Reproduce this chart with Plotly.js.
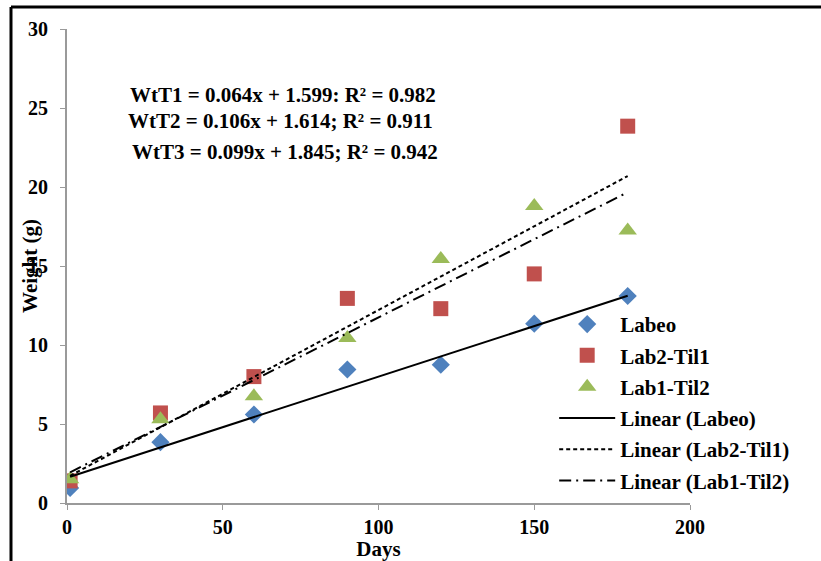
<!DOCTYPE html>
<html>
<head>
<meta charset="utf-8">
<script src="https://cdn.plot.ly/plotly-3.0.1.min.js"></script>
<style>html,body{margin:0;padding:0;background:#fff;}#chart{width:821px;height:561px;}</style>
</head>
<body>
<div id="chart"></div>
<script>
const days = [1, 30, 60, 90, 120, 150, 180];
const labeo = [0.95, 3.85, 5.6, 8.45, 8.75, 11.35, 13.1];
const lab2Til1 = [1.4, 5.7, 8.0, 12.95, 12.3, 14.5, 23.85];
const lab1Til2 = [1.5, 5.3, 6.75, 10.45, 15.45, 18.8, 17.25];
const seriesNames = ["Labeo", "Lab2-Til1", "Lab1-Til2"];
const slopes = [0.064, 0.106, 0.099];
const intercepts = [1.599, 1.614, 1.845];
const equations = [
  "WtT1 = 0.064x + 1.599: R² = 0.982",
  "WtT2 = 0.106x + 1.614; R² = 0.911",
  "WtT3 = 0.099x + 1.845; R² = 0.942"
];
const xTicks = [0, 50, 100, 150, 200];
const yTicks = [0, 5, 10, 15, 20, 25, 30];

const FONT = "Liberation Serif";
const colors = ["#4F81BD", "#C0504D", "#9BBB59"];
const symbols = ["diamond", "square", "triangle-up"];
const sizes = [14, 15, 16];
const dashes = ["solid", "4px,3px", "12px,5px,2px,5px"];
const seriesVals = [labeo, lab2Til1, lab1Til2];

const traces = [];
seriesVals.forEach((v, i) => {
  traces.push({
    x: days, y: v, mode: "markers", type: "scatter", name: seriesNames[i],
    legendgroup: "g" + i,
    marker: {color: colors[i], symbol: symbols[i], size: sizes[i]}
  });
});
seriesVals.forEach((v, i) => {
  const xs = [days[0], days[days.length - 1]];
  traces.push({
    x: xs, y: xs.map(x => slopes[i] * x + intercepts[i]),
    mode: "lines", type: "scatter", name: "Linear (" + seriesNames[i] + ")",
    legendgroup: "l" + i,
    line: {color: "#000", width: 2, dash: dashes[i]}
  });
});

const annY = [25.8, 24.2, 22.2];
const annX = [69.5, 68.5, 70];
const annotations = equations.map((t, i) => ({
  x: annX[i], y: annY[i], xref: "x", yref: "y", text: t, showarrow: false,
  font: {family: FONT, size: 21, color: "#000", weight: "bold"}
}));

const layout = {
  width: 821, height: 561,
  margin: {l: 67, r: 131, t: 29, b: 58},
  paper_bgcolor: "#fff", plot_bgcolor: "#fff",
  showlegend: true,
  legend: {x: 0.782, y: 0.42, xanchor: "left", yanchor: "top", bgcolor: "rgba(0,0,0,0)",
    itemwidth: 56,
    font: {family: FONT, size: 21, color: "#000", weight: "bold"}, tracegroupgap: 1},
  xaxis: {range: [0, 200], tickvals: xTicks, showgrid: false, zeroline: false,
    showline: true, linecolor: "#9a9a9a", linewidth: 2, ticks: "outside", ticklen: 5, tickcolor: "#9a9a9a",
    tickfont: {family: FONT, size: 20, color: "#000", weight: "bold"},
    title: {text: "Days", font: {family: FONT, size: 21, color: "#000", weight: "bold"}, standoff: 0}},
  yaxis: {range: [0, 30], tickvals: yTicks, showgrid: false, zeroline: false,
    showline: true, linecolor: "#9a9a9a", linewidth: 2, ticks: "outside", ticklen: 5, tickcolor: "#9a9a9a",
    ticklabelstandoff: 8,
    tickfont: {family: FONT, size: 20, color: "#000", weight: "bold"},
    title: {text: "Weight (g)", font: {family: FONT, size: 21, color: "#000", weight: "bold"}, standoff: 0}},
  annotations: annotations,
  shapes: [
    {type: "line", xref: "paper", yref: "paper", x0: -0.0899, x1: 1.3, y0: 1.0464, y1: 1.0464, line: {color: "#000", width: 3}},
    {type: "line", xref: "paper", yref: "paper", x0: -0.0899, x1: -0.0899, y0: 1.0464, y1: -0.2, line: {color: "#000", width: 3}}
  ]
};

Plotly.newPlot("chart", traces, layout, {displayModeBar: false, staticPlot: true}).then(() => {
  // nudge the y title closer to the axis as in the reference
  const yt = document.querySelector(".g-ytitle text");
  if (yt) {
    const y = parseFloat(yt.getAttribute("y"));
    yt.setAttribute("x", 37);
    yt.setAttribute("transform", "rotate(-90,37," + y + ")");
  }
});
</script>
</body>
</html>
